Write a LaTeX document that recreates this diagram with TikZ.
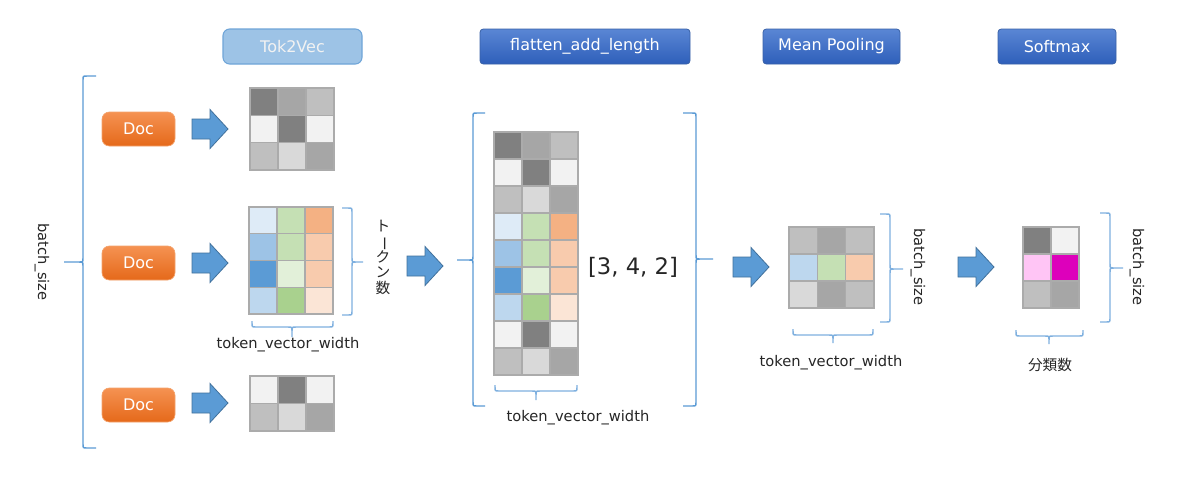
\documentclass[tikz,border=0pt]{standalone}
\usepackage{fontspec}
\setmainfont{DejaVu Sans}
\newfontfamily\jpfont{Noto Sans CJK JP}
\usepackage{graphicx}
\definecolor{ga}{HTML}{808080}
\definecolor{gb}{HTML}{A6A6A6}
\definecolor{gc}{HTML}{BFBFBF}
\definecolor{gd}{HTML}{D9D9D9}
\definecolor{ge}{HTML}{F2F2F2}
\definecolor{ba}{HTML}{DEEBF7}
\definecolor{bb}{HTML}{9DC3E6}
\definecolor{bc}{HTML}{5B9BD5}
\definecolor{bd}{HTML}{BDD7EE}
\definecolor{gra}{HTML}{C5E0B4}
\definecolor{grb}{HTML}{E2F0D9}
\definecolor{grc}{HTML}{A9D18E}
\definecolor{oa}{HTML}{F4B183}
\definecolor{ob}{HTML}{F8CBAD}
\definecolor{oc}{HTML}{FBE5D6}
\definecolor{pk}{HTML}{FFC5F5}
\definecolor{mg}{HTML}{DD00BB}
\definecolor{cellline}{HTML}{ABABAB}
\definecolor{brc}{HTML}{7FB0DF}
\definecolor{brcdark}{HTML}{5B9BD5}
\definecolor{arrfill}{HTML}{5B9BD5}
\definecolor{arrline}{HTML}{41719C}
\definecolor{hdrtop}{HTML}{5A86D4}
\definecolor{hdrbot}{HTML}{2E5FBA}
\definecolor{hdrline}{HTML}{3A62A8}
\definecolor{lighthdr}{HTML}{9DC3E6}
\definecolor{lighthdrline}{HTML}{6FA5D8}
\definecolor{doctop}{HTML}{F59252}
\definecolor{docbot}{HTML}{E5691A}
\definecolor{docline}{HTML}{F4A46E}
\definecolor{txt}{HTML}{262626}
\tikzset{
  br/.style={draw=brc, line width=1.1pt},
  brdark/.style={draw=brcdark, line width=1.1pt},
  cell/.style={draw=cellline, line width=1pt},
  hdr/.style={text=white, font=\fontsize{12}{14}\selectfont, minimum height=26.25pt,
    inner sep=0pt, rounded corners=2.5pt, draw=hdrline, top color=hdrtop,
    bottom color=hdrbot, line width=0.6pt},
  lighthdrbox/.style={text=ge, font=\fontsize{12}{14}\selectfont, minimum height=26.25pt,
    inner sep=0pt, rounded corners=5pt, draw=lighthdrline, fill=lighthdr, line width=0.8pt},
  docbtn/.style={text=white, font=\fontsize{12}{14}\selectfont, minimum width=54.75pt,
    minimum height=25.5pt, inner sep=0pt, rounded corners=5.5pt, draw=docline,
    top color=doctop, bottom color=docbot, line width=0.5pt},
  lbl/.style={font=\fontsize{11}{13}\selectfont, text=txt, inner sep=0pt},
  barrow/.style={fill=arrfill, draw=arrline, line width=0.6pt},
}
% block arrow: left x, centre y
\newcommand\blockarr[2]{%
  \draw[barrow] (#1,#2-10) -- (#1+18,#2-10) -- (#1+18,#2-19.5) -- (#1+36,#2)
    -- (#1+18,#2+19.5) -- (#1+18,#2+10) -- (#1,#2+10) -- cycle;}
% grid: x0 y0 w h {rows}
\newcommand\mygrid[5]{%
  \foreach \row [count=\j from 0] in {#5} {%
    \foreach \c [count=\i from 0] in \row {%
      \draw[cell,fill=\c] ({#1+\i*#3},{#2+\j*#4}) rectangle ++(#3,#4);}}}
% vertical brace: style, x of ends, x of line, x of tip, y top, y tip, y bottom
\newcommand\vbrace[7]{%
  \pgfmathsetmacro\ea{#3+4*sign(#2-#3)}%
  \pgfmathsetmacro\ta{#3+4*sign(#4-#3)}%
  \draw[#1] (#2,#5) -- (\ea,#5) .. controls (#3,#5) .. (#3,#5+4) -- (#3,#6-4)
    .. controls (#3,#6) .. (\ta,#6) -- (#4,#6)
    (\ta,#6) .. controls (#3,#6) .. (#3,#6+4) -- (#3,#7-4)
    .. controls (#3,#7) .. (\ea,#7) -- (#2,#7);}
% horizontal brace (opening up, tip down): y of ends, y of line, y of tip, x left, x tip, x right
\newcommand\hbrace[6]{%
  \draw[br] (#4,#1) -- (#4,#2-4) .. controls (#4,#2) .. (#4+4,#2) -- (#5-4,#2)
    .. controls (#5,#2) .. (#5,#2+4) -- (#5,#3)
    (#5,#2+4) .. controls (#5,#2) .. (#5+4,#2) -- (#6-4,#2)
    .. controls (#6,#2) .. (#6,#2-4) -- (#6,#1);}
\newcommand\vchar[1]{\makebox[1em][c]{\rule{0pt}{0.85em}\smash{#1}}}
\begin{document}
\begin{tikzpicture}[x=0.75pt,y=-0.75pt]
\useasboundingbox (0,0) rectangle (1189,483);
\fill[white] (0,0) rectangle (1189,483);

% headers
\node[lighthdrbox, minimum width=104.25pt] (tok2vec) at (292.5,46.5) {Tok2Vec};
\node[hdr, minimum width=157.5pt] (flatten) at (585,46.5) {flatten\_add\_length};
\node[hdr, minimum width=102.75pt] (meanpool) at (831.5,46.5) {Mean Pooling};
\node[hdr, minimum width=88.5pt] (softmax) at (1057,46.5) {Softmax};

% left batch brace
\vbrace{brdark}{96}{83}{64}{76}{262}{448}
\node[lbl, rotate=-90] (bsleft) at (42,262) {batch\_size};

% docs
\node[docbtn] (doc1) at (138.5,129) {Doc};
\node[docbtn] (doc2) at (138.5,263) {Doc};
\node[docbtn] (doc3) at (138.5,405) {Doc};

\blockarr{192}{129}
\blockarr{192}{263}
\blockarr{192}{403}

% grids of docs
\mygrid{250}{88}{28}{27.3}{{ga,gb,gc},{ge,ga,ge},{gc,gd,gb}}
\mygrid{249}{207}{28}{26.75}{{ba,gra,oa},{bb,gra,ob},{bc,grb,ob},{bd,grc,oc}}
\mygrid{250}{376}{28}{27.5}{{ge,ga,ge},{gc,gd,gb}}

% token count brace and label
\vbrace{br}{342}{352}{363}{208}{262}{315}
\node[lbl, font=\jpfont\fontsize{11}{11.6}\selectfont, align=center] (tokcount) at (383,256)
  {\vchar{ト}\\\vchar{\rotatebox[origin=c]{-90}{ー}}\\\vchar{ク}\\\vchar{ン}\\\vchar{数}};
\hbrace{321}{327}{337}{252}{292}{333}
\node[lbl] (tvw1) at (288,345) {token\_vector\_width};

\blockarr{407}{266}

% big column
\vbrace{brdark}{485}{473}{457}{113}{260}{406}
\vbrace{brdark}{683}{696}{713}{113}{259}{406}
\mygrid{494}{132}{28}{27}{{ga,gb,gc},{ge,ga,ge},{gc,gd,gb},{ba,gra,oa},{bb,gra,ob},{bc,grb,ob},{bd,grc,oc},{ge,ga,ge},{gc,gd,gb}}
\node[lbl, font=\fontsize{17}{20}\selectfont] (shape) at (633,267) {[3, 4, 2]};
\hbrace{385}{391}{400}{495}{536}{577}
\node[lbl] (tvw2) at (578,418) {token\_vector\_width};

\blockarr{733}{267}

% mean pooling result
\mygrid{789}{227}{28.3}{27}{{gc,gb,gc},{bd,gra,ob},{gd,gb,gc}}
\vbrace{br}{880}{890}{903}{214}{269}{322}
\node[lbl, rotate=-90] (bs2) at (918,267) {batch\_size};
\hbrace{329}{335}{343}{793}{833}{873}
\node[lbl] (tvw3) at (831,363) {token\_vector\_width};

\blockarr{958}{267}

% softmax result
\mygrid{1023}{227}{28}{27}{{ga,ge},{pk,mg},{gc,gb}}
\vbrace{br}{1100}{1110}{1123}{213}{268}{322}
\node[lbl, rotate=-90] (bs3) at (1137,267) {batch\_size};
\hbrace{330}{336}{344}{1016}{1049}{1083}
\node[lbl, font=\jpfont\fontsize{11}{13}\selectfont] (classes) at (1050,365) {分類数};
\end{tikzpicture}
\end{document}
